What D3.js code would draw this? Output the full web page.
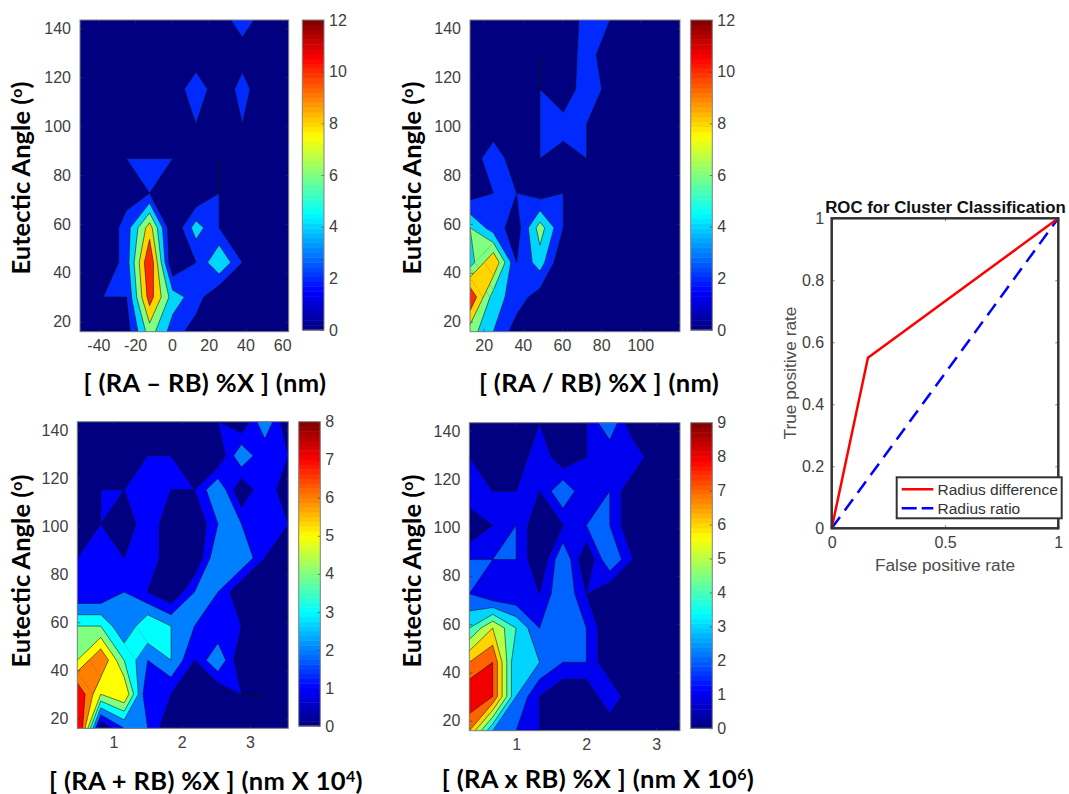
<!DOCTYPE html>
<html>
<head>
<meta charset="utf-8">
<script src="https://cdn.jsdelivr.net/npm/d3@7"></script>
<style>
  html, body { margin: 0; padding: 0; background: #fff; }
  svg { display: block; }
  .tick text { font-family: "Liberation Sans", Arial, sans-serif; font-size: 16px; fill: #404040; }
  .tick line { stroke: #333; stroke-width: 0.6; }
  .bold-label { font-family: Lato, "Open Sans", sans-serif; font-weight: 700; font-size: 25.5px; fill: #000; }
  .roc-label { font-family: "Liberation Sans", Arial, sans-serif; font-size: 17.3px; fill: #4d4d4d; }
</style>
</head>
<body>
<svg id="chart" width="1069" height="794"></svg>
<script>
// grid values, first row is the top of the plot (largest angle)
const gridDifference = [
  [0, 0, 0, 0, 0, 0, 1, 3, 1, 0],
  [0, 0, 0, 0, 0, 0, 0, 1, 0, 0],
  [0, 0, 0, 0, 0, 4, 0, 3, 0, 0],
  [0, 0, 0, 0, 0, 2, 0, 2, 0, 0],
  [0, 0, 2, 2, 2, 0, 2, 0, 0, 0],
  [0, 0, 1, 2, 0, 0, 2, 0, 0, 0],
  [0, 0, 3, 9, 0, 5, 2, 0, 0, 0],
  [0, 0, 3, 12, 0, 2, 6, 2, 0, 0],
  [0, 2, 2, 11, 5, 3, 0, 0, 0, 0],
  [0, 0, 1, 7, 3, 1, 0, 0, 0, 0]
];
const gridRatio = [
  [0, 0, 0, 0, 0, 3, 2, 0, 0, 0],
  [0, 0, 0, 2, 0, 3.4, 0, 0, 0, 0],
  [0, 0, 0, 2, 0, 3.8, 1, 0, 0, 0],
  [0, 0, 0, 2, 3, 2, 0, 0, 0, 0],
  [0, 4, 0, 2, 1, 2, 0, 0, 0, 0],
  [1, 2, 2, 1, 2, 0, 0, 0, 0, 0],
  [6, 3, 1, 7, 2, 0, 0, 0, 0, 0],
  [5, 10, 2, 5, 0, 0, 0, 0, 0, 0],
  [12, 5, 3, 1, 0, 0, 0, 0, 0, 0],
  [7, 4, 1, 0, 0, 0, 0, 0, 0, 0]
];
const gridSum = [
  [0, 0, 0, 0, 0, 0, 1, 0, 3, 0],
  [0, 0, 0, 1, 1, 0, 0, 3, 1, 1],
  [0, 1, 1, 1, 1, 1, 3, 0, 2, 0],
  [0, 1, 0, 2, 0, 0, 2, 2, 1, 1],
  [1, 1, 1, 2, 0, 0, 3, 3, 1, 0],
  [1, 1, 2, 1, 0, 2, 2, 0, 0, 0],
  [4, 4, 2, 4, 3, 2, 1, 1, 0, 0],
  [5, 7, 4, 2, 3, 1, 3, 0, 0, 0],
  [8, 5, 6, 1, 1, 0, 0, 1, 1, 0],
  [9, 0, 2, 2, 0, 0, 0, 0, 0, 0]
];
const gridProduct = [
  [0, 0, 0, 1, 0, 1, 3, 0, 0, 0],
  [1, 0, 0, 2, 0, 1, 1, 2, 0, 0],
  [2, 1, 1, 1, 3, 1, 2, 0, 0, 0],
  [0, 1, 2, 0, 1, 2, 2, 0, 0, 0],
  [2, 2, 2, 0, 3, 0, 3, 1, 0, 0],
  [2, 1, 1, 1, 3, 1, 0, 0, 0, 0],
  [4, 6, 4, 2, 3, 2, 0, 0, 0, 0],
  [7, 8, 3, 3, 2, 2, 0, 0, 0, 0],
  [9, 8, 3, 1, 0, 0, 2, 0, 0, 0],
  [7, 3, 2, 1, 0, 0, 0, 0, 0, 0]
];

const angleRange = [15.9, 143.4];
const angleTicks = [20, 40, 60, 80, 100, 120, 140];

const rocDifferenceFpr = [0, 0.16, 1];
const rocDifferenceTpr = [0, 0.55, 1];
const rocRatioFpr = [0, 1];
const rocRatioTpr = [0, 1];
const rocLegend = ['Radius difference', 'Radius ratio'];

const svg = d3.select('#chart');

// MATLAB jet
function jet(t) {
  const c = v => Math.round(255 * Math.max(0, Math.min(1, 1.5 - Math.abs(4 * t - v))));
  return `rgb(${c(3)},${c(2)},${c(1)})`;
}

// d3.contours 在鞍点处总是把高值角分开，这里找出均值不低于 level 的鞍点格子，用四边形连上
function saddleBridges(grid, level) {
  const out = [];
  for (let j = 0; j < grid.length - 1; j++) {
    for (let i = 0; i < grid[0].length - 1; i++) {
      const a = grid[j][i], b = grid[j][i + 1], c = grid[j + 1][i + 1], d = grid[j + 1][i];
      const acHigh = a >= level && c >= level && b < level && d < level;
      const bdHigh = b >= level && d >= level && a < level && c < level;
      if ((!acHigh && !bdHigh) || (a + b + c + d) / 4 < level) continue;
      const top = [i + (level - a) / (b - a), j];
      const right = [i + 1, j + (level - b) / (c - b)];
      const bottom = [i + (level - d) / (c - d), j + 1];
      const left = [i, j + (level - a) / (d - a)];
      out.push({
        quad: [top, right, bottom, left],
        edges: acHigh ? [[top, right], [bottom, left]] : [[left, top], [right, bottom]]
      });
    }
  }
  return out;
}

function drawContourPanel(p, index) {
  const { grid, box, bar, xRange, xTicks, levels, maxLevel, levelStep } = p;
  const x = d3.scaleLinear().domain(xRange).range([box.left, box.right]);
  const y = d3.scaleLinear().domain(angleRange).range([box.bottom, box.top]);
  const g = svg.append('g');

  const nx = grid[0].length, ny = grid.length;
  const colToX = d3.scaleLinear().domain([0, nx - 1]).range(xRange);
  const rowToY = d3.scaleLinear().domain([0, ny - 1]).range([angleRange[1], angleRange[0]]);

  // contour 坐标是格子索引，格子中心在 i+0.5
  const path = d3.geoPath(d3.geoTransform({
    point(px, py) { this.stream.point(x(colToX(px - 0.5)), y(rowToY(py - 0.5))); }
  }));
  const gridLine = d3.line().x(d => x(colToX(d[0]))).y(d => y(rowToY(d[1])));

  const clipId = `clip-${index}`;
  g.append('clipPath').attr('id', clipId).append('rect')
    .attr('x', box.left).attr('y', box.top)
    .attr('width', box.right - box.left).attr('height', box.bottom - box.top);

  const contours = d3.contours().size([nx, ny]).thresholds(levels)(grid.flat());
  const plot = g.append('g').attr('clip-path', `url(#${clipId})`);

  contours.forEach(band => {
    const color = jet(band.value / maxLevel);
    plot.append('path')
      .attr('d', path(band))
      .attr('fill', color)
      .attr('fill-rule', 'evenodd')
      .attr('stroke', band.value === 0 ? 'none' : '#111')
      .attr('stroke-width', 0.55);
    if (band.value === 0) return;
    saddleBridges(grid, band.value).forEach(s => {
      plot.append('path')
        .attr('d', gridLine(s.quad) + 'Z')
        .attr('fill', color).attr('stroke', color).attr('stroke-width', 0.8);
      s.edges.forEach(e => {
        plot.append('path')
          .attr('d', gridLine(e))
          .attr('fill', 'none').attr('stroke', '#111').attr('stroke-width', 0.55);
      });
    });
  });

  // 坐标轴
  const tickAxis = (axis, tx, ty, labels) => {
    const a = g.append('g').attr('transform', `translate(${tx},${ty})`).call(axis);
    a.select('.domain').remove();
    if (!labels) a.selectAll('text').remove();
    return a;
  };
  tickAxis(d3.axisLeft(y).tickValues(angleTicks).tickSize(-3).tickPadding(9), box.left, 0, true);
  tickAxis(d3.axisRight(y).tickValues(angleTicks).tickSize(-3), box.right, 0, false);
  tickAxis(d3.axisBottom(x).tickValues(xTicks).tickFormat(d => d).tickSize(-3).tickPadding(8), 0, box.bottom, true);
  tickAxis(d3.axisTop(x).tickValues(xTicks).tickSize(-3), 0, box.top, false);

  g.append('rect')
    .attr('x', box.left).attr('y', box.top)
    .attr('width', box.right - box.left).attr('height', box.bottom - box.top)
    .attr('fill', 'none').attr('stroke', '#808080').attr('stroke-width', 1);

  // colorbar
  const c = d3.scaleLinear().domain([0, maxLevel]).range([bar.bottom, bar.top]);
  const steps = d3.range(64);
  g.append('g').selectAll('rect')
    .data(steps)
    .join('rect')
      .attr('x', bar.left)
      .attr('width', bar.right - bar.left)
      .attr('y', i => c((i + 1) / 64 * maxLevel))
      .attr('height', i => c(i / 64 * maxLevel) - c((i + 1) / 64 * maxLevel) + 0.5)
      .attr('fill', i => jet((i + 0.5) / 64));
  const barAxis = d3.axisRight(c).tickValues(d3.range(0, maxLevel + 1, levelStep)).tickFormat(d3.format('d')).tickSize(-2.5).tickPadding(bar.pad);
  tickAxis(barAxis, bar.right, 0, true);
  g.append('rect')
    .attr('x', bar.left).attr('y', bar.top)
    .attr('width', bar.right - bar.left).attr('height', bar.bottom - bar.top)
    .attr('fill', 'none').attr('stroke', '#808080').attr('stroke-width', 1);

  // 轴标题
  const yLabel = g.append('text').attr('class', 'bold-label')
    .attr('transform', `translate(${p.yLabelX},${p.yLabelY}) rotate(-90)`)
    .attr('text-anchor', 'middle');
  yLabel.append('tspan').text('Eutectic Angle (');
  yLabel.append('tspan').text('o').attr('dy', -8).style('font-size', '16px');
  yLabel.append('tspan').text(')').attr('dy', 8);

  const xLabel = g.append('text').attr('class', 'bold-label')
    .attr('x', p.xLabelX).attr('y', p.xLabelY).attr('text-anchor', 'middle')
    .style('letter-spacing', '0.35px');
  xLabel.append('tspan').text(p.xLabel[0]);
  if (p.xLabel[1]) {
    xLabel.append('tspan').text(p.xLabel[1]).attr('dy', -8).style('font-size', '16px');
    xLabel.append('tspan').text(p.xLabel[2]).attr('dy', 8);
  }
}

const panels = [
  {
    grid: gridDifference,
    box: { left: 80, right: 288.7, top: 20, bottom: 331.7 },
    bar: { left: 302.3, right: 324, top: 20, bottom: 330, pad: 5 },
    xRange: [-50, 63.5], xTicks: [-40, -20, 0, 20, 40, 60],
    levels: [0, 2, 4, 6, 8, 10], maxLevel: 12, levelStep: 2,
    yLabelX: 30, yLabelY: 178, xLabelX: 205, xLabelY: 392,
    xLabel: ['[ (RA – RB) %X ] (nm)']
  },
  {
    grid: gridRatio,
    box: { left: 470, right: 680, top: 20, bottom: 331.7 },
    bar: { left: 690.7, right: 712.3, top: 20, bottom: 330, pad: 5 },
    xRange: [13, 120.3], xTicks: [20, 40, 60, 80, 100],
    levels: [0, 2, 4, 6, 8, 10], maxLevel: 12, levelStep: 2,
    yLabelX: 421, yLabelY: 178, xLabelX: 599, xLabelY: 392,
    xLabel: ['[ (RA / RB) %X ] (nm)']
  },
  {
    grid: gridSum,
    box: { left: 77.3, right: 288.3, top: 421.7, bottom: 728.3 },
    bar: { left: 298.7, right: 320.3, top: 421.7, bottom: 726, pad: 5 },
    xRange: [0.47, 3.56], xTicks: [1, 2, 3],
    levels: [0, 1, 2, 3, 4, 5, 6, 7], maxLevel: 8, levelStep: 1,
    yLabelX: 30, yLabelY: 571, xLabelX: 206, xLabelY: 790,
    xLabel: ['[ (RA + RB) %X ] (nm X 10', '4', ')']
  },
  {
    grid: gridProduct,
    box: { left: 469.3, right: 680, top: 422.7, bottom: 730.7 },
    bar: { left: 690.7, right: 712.3, top: 422.7, bottom: 728.3, pad: 5 },
    xRange: [0.33, 3.34], xTicks: [1, 2, 3],
    levels: [0, 1, 2, 3, 4, 5, 6, 7, 8], maxLevel: 9, levelStep: 1,
    yLabelX: 421, yLabelY: 571, xLabelX: 598, xLabelY: 788,
    xLabel: ['[ (RA x RB) %X ] (nm X 10', '6', ')']
  }
];
panels.forEach(drawContourPanel);

// ROC
function drawRoc() {
  const box = { left: 831.7, right: 1058.3, top: 218.3, bottom: 528.3 };
  const x = d3.scaleLinear().domain([0, 1]).range([box.left, box.right]);
  const y = d3.scaleLinear().domain([0, 1]).range([box.bottom, box.top]);
  const g = svg.append('g');
  const line = d3.line().x(d => x(d[0])).y(d => y(d[1]));

  g.append('path').datum(d3.zip(rocRatioFpr, rocRatioTpr))
    .attr('d', line).attr('fill', 'none').attr('stroke', '#0000ff')
    .attr('stroke-width', 2.5).attr('stroke-dasharray', '14,8');
  g.append('path').datum(d3.zip(rocDifferenceFpr, rocDifferenceTpr))
    .attr('d', line).attr('fill', 'none').attr('stroke', '#ff0000').attr('stroke-width', 2.5);

  const xAxis = g.append('g').attr('transform', `translate(0,${box.bottom})`)
    .call(d3.axisBottom(x).tickValues([0, 0.5, 1]).tickFormat(d3.format('~g')).tickSize(-3).tickPadding(8));
  const yAxis = g.append('g').attr('transform', `translate(${box.left},0)`)
    .call(d3.axisLeft(y).tickValues([0, 0.2, 0.4, 0.6, 0.8, 1]).tickFormat(d3.format('~g')).tickSize(-3).tickPadding(7.5));
  const topAxis = g.append('g').attr('transform', `translate(0,${box.top})`)
    .call(d3.axisTop(x).tickValues([0, 0.5, 1]).tickSize(-3));
  const rightAxis = g.append('g').attr('transform', `translate(${box.right},0)`)
    .call(d3.axisRight(y).tickValues([0, 0.2, 0.4, 0.6, 0.8, 1]).tickSize(-3));
  [xAxis, yAxis, topAxis, rightAxis].forEach(a => {
    a.select('.domain').remove();
    a.selectAll('line').attr('stroke-width', 2);
  });
  topAxis.selectAll('text').remove();
  rightAxis.selectAll('text').remove();

  g.append('rect')
    .attr('x', box.left).attr('y', box.top)
    .attr('width', box.right - box.left).attr('height', box.bottom - box.top)
    .attr('fill', 'none').attr('stroke', '#333').attr('stroke-width', 2.5);

  g.append('text')
    .attr('x', 945.5).attr('y', 212.5).attr('text-anchor', 'middle')
    .style('font-family', '"Liberation Sans", Arial, sans-serif')
    .style('font-weight', 700).style('font-size', '16.8px').style('fill', '#111')
    .text('ROC for Cluster Classification');
  g.append('text').attr('class', 'roc-label')
    .attr('x', 945).attr('y', 571).attr('text-anchor', 'middle').text('False positive rate');
  g.append('text').attr('class', 'roc-label')
    .attr('transform', 'translate(796,373) rotate(-90)').attr('text-anchor', 'middle').text('True positive rate');

  // legend
  g.append('rect')
    .attr('x', 896.7).attr('y', 477.3).attr('width', 165).attr('height', 41)
    .attr('fill', '#fff').attr('stroke', '#333').attr('stroke-width', 2);
  const rows = g.selectAll('.legend-row')
    .data(rocLegend)
    .join('g')
      .attr('class', 'legend-row')
      .attr('transform', (d, i) => `translate(0,${489.3 + i * 19})`);
  rows.append('line')
    .attr('x1', 901.7).attr('x2', 933.3)
    .attr('stroke', (d, i) => i === 0 ? '#ff0000' : '#0000ff')
    .attr('stroke-width', 2.5)
    .attr('stroke-dasharray', (d, i) => i === 0 ? null : '15,5');
  rows.append('text')
    .attr('x', 937.5).attr('y', 5.5)
    .style('font-family', '"Liberation Sans", Arial, sans-serif')
    .style('font-size', '15.5px').style('fill', '#333')
    .text(d => d);
}
drawRoc();
</script>
</body>
</html>
